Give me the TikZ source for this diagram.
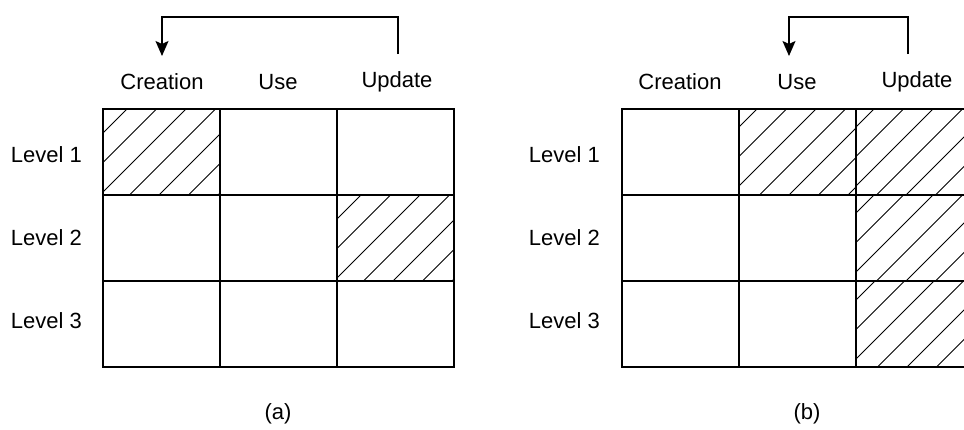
\documentclass[tikz,border=0pt]{standalone}
\usepackage{fontspec}
\setmainfont{Liberation Sans}
\usetikzlibrary{arrows.meta}

\begin{document}
\begin{tikzpicture}[x=1pt, y=-1pt,
  lbl/.style={font=\fontsize{22}{26}\selectfont, inner sep=0pt},
  cell/.style={draw, line width=1.5pt, minimum width=117pt, minimum height=86pt,
               inner sep=0pt, outer sep=0pt},
  % diagonal hatch in the cell's own coordinates, phase given by #1
  hatched/.style={path picture={
      \foreach \k in {-9,...,9}
        \draw[line width=0.9pt] ({\k*29.5+#1+300},-300) -- ++(-600,600);
  }},
  arr/.style={line width=1.5pt, -{Stealth[length=15pt, width=13pt, inset=3pt]}}
]
\useasboundingbox (0,0) rectangle (964,429);

% ---------- (a) ----------
\node[lbl] (ha1) at (162,82) {Creation};
\node[lbl] (ha2) at (278,82) {Use};
\node[lbl] (ha3) at (397,82) {Update};

\node[lbl, anchor=east] (la1) at (82,155) {Level 1};
\node[lbl, anchor=east] (la2) at (82,238) {Level 2};
\node[lbl, anchor=east] (la3) at (82,321) {Level 3};

\node[cell, hatched=11] (a11) at (161.5,152) {};
\node[cell] (a12) at (278.5,152) {};
\node[cell] (a13) at (395.5,152) {};
\node[cell] (a21) at (161.5,238) {};
\node[cell] (a22) at (278.5,238) {};
\node[cell, hatched=11] (a23) at (395.5,238) {};
\node[cell] (a31) at (161.5,324) {};
\node[cell] (a32) at (278.5,324) {};
\node[cell] (a33) at (395.5,324) {};

\coordinate (asrc) at (398,54);
\coordinate (adst) at (162,56);
\draw[arr] (asrc) |- (280,17) -| (adst);

\node[lbl] (capa) at (278,414) {(a)};

% ---------- (b) ----------
\node[lbl] (hb1) at (680,82) {Creation};
\node[lbl] (hb2) at (797,82) {Use};
\node[lbl] (hb3) at (917,82) {Update};

\node[lbl, anchor=east] (lb1) at (600,155) {Level 1};
\node[lbl, anchor=east] (lb2) at (600,238) {Level 2};
\node[lbl, anchor=east] (lb3) at (600,321) {Level 3};

\node[cell] (b11) at (680.5,152) {};
\node[cell, hatched=5] (b12) at (797.5,152) {};
\node[cell, hatched=5] (b13) at (914.5,152) {};
\node[cell] (b21) at (680.5,238) {};
\node[cell] (b22) at (797.5,238) {};
\node[cell, hatched=5] (b23) at (914.5,238) {};
\node[cell] (b31) at (680.5,324) {};
\node[cell] (b32) at (797.5,324) {};
\node[cell, hatched=6] (b33) at (914.5,324) {};

\coordinate (bsrc) at (908,54);
\coordinate (bdst) at (789,56);
\draw[arr] (bsrc) |- (850,17) -| (bdst);

\node[lbl] (capb) at (807,414) {(b)};
\end{tikzpicture}
\end{document}
